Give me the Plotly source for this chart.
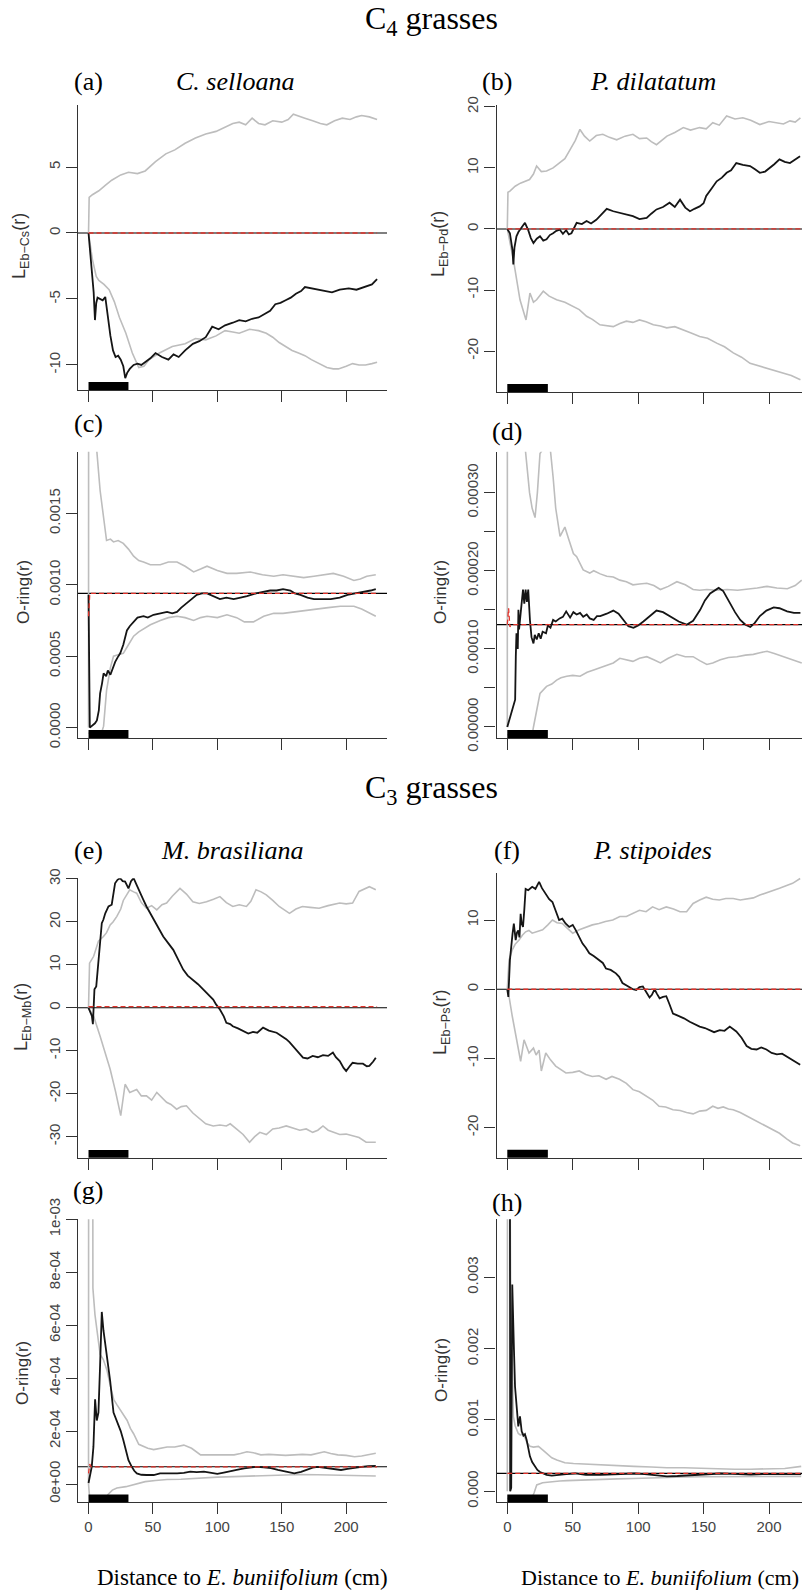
import plotly.graph_objects as go

W, H = 802, 1590

# ---------------- data (r = distance in cm) ----------------
x_ticks = [0, 50, 100, 150, 200]
bar_range = [0, 31]

# (a) C. selloana, L-function
a_hi_r = [0, 0.5, 3, 8, 13, 18, 25, 31, 38, 44, 52, 60, 67, 75, 83, 91, 99, 106, 112, 117, 122, 127, 132, 137, 143, 150, 155, 159, 164, 168, 174, 180, 185, 191, 197, 203, 208, 212, 218, 224]
a_hi = [0, 2.7, 2.9, 3.2, 3.6, 4.0, 4.4, 4.6, 4.5, 4.7, 5.4, 6.0, 6.3, 6.8, 7.2, 7.5, 7.7, 8.0, 8.3, 8.4, 8.2, 8.7, 8.3, 8.2, 8.5, 8.4, 8.6, 9.0, 8.8, 8.7, 8.5, 8.3, 8.2, 8.5, 8.7, 8.6, 8.8, 8.9, 8.8, 8.6]
a_lo_r = [0, 3, 6, 8, 12, 16, 20, 24, 29, 34, 39, 43, 47, 55, 65, 75, 83, 91, 99, 106, 112, 117, 125, 132, 138, 143, 148, 153, 158, 163, 168, 173, 179, 185, 190, 194, 200, 205, 210, 215, 220, 224]
a_lo = [0, -2.0, -3.3, -3.6, -3.9, -4.3, -5.2, -6.4, -7.6, -9.1, -10.2, -10.1, -9.6, -9.1, -8.6, -8.4, -8.0, -8.1, -7.8, -7.4, -7.5, -7.6, -7.3, -7.4, -7.6, -7.9, -8.3, -8.6, -8.9, -9.1, -9.3, -9.6, -9.9, -10.2, -10.3, -10.3, -10.1, -9.9, -10.0, -10.0, -9.9, -9.8]
a_obs_r = [0, 2, 4, 5, 6, 7, 9, 11, 13, 15, 17, 19, 21, 23, 25, 27, 28.5, 30, 32, 35, 38, 41, 44, 48, 52, 57, 62, 66, 70, 75, 81, 86, 91, 96, 101, 106, 112, 117, 122, 127, 132, 137, 141, 145, 149, 153, 157, 161, 165, 168, 173, 179, 184, 189, 195, 202, 208, 215, 220, 224]
a_obs = [0, -2.5, -4.5, -6.6, -5.3, -4.9, -5.0, -5.1, -4.85, -6.4, -7.8, -8.9, -9.4, -9.3, -9.6, -10.1, -11.0, -10.6, -10.3, -10.0, -9.9, -10.0, -9.8, -9.5, -9.1, -9.4, -9.6, -9.2, -9.4, -8.9, -8.4, -8.2, -7.9, -7.1, -7.3, -7.0, -6.8, -6.6, -6.7, -6.5, -6.4, -6.1, -5.9, -5.4, -5.3, -5.1, -4.9, -4.6, -4.4, -4.1, -4.2, -4.3, -4.4, -4.5, -4.3, -4.2, -4.3, -4.1, -3.9, -3.5]
a_theo = 0.0
a_red_r = [0, 224]
a_red = [0.0, 0.0]

# (b) P. dilatatum, L-function
b_hi_r = [0, 0.5, 2, 6, 10, 14, 17, 20, 22.4, 26, 30, 35, 40, 44, 48, 52, 55.5, 59, 63, 68, 73, 78, 83.6, 90, 96, 101, 106.5, 110, 114, 118, 122, 128, 134.5, 140, 147, 152, 157, 162, 167.6, 174, 180, 186, 193, 200, 206, 211, 216, 220, 224]
b_hi = [0, 6.0, 6.2, 7.0, 7.5, 7.9, 8.1, 9.0, 10.3, 9.4, 9.5, 10.0, 10.8, 11.5, 13.0, 14.5, 16.3, 15.2, 14.4, 15.3, 15.5, 15.0, 14.6, 15.2, 15.5, 14.8, 14.9, 14.3, 13.8, 14.5, 15.2, 15.8, 16.6, 16.2, 16.6, 16.4, 17.4, 17.0, 18.5, 18.0, 18.2, 17.8, 17.1, 17.6, 17.4, 17.2, 17.7, 17.5, 18.2]
b_lo_r = [0, 4.6, 9.7, 14.3, 17.3, 20, 22.4, 27.5, 32, 37.7, 44, 50.4, 55, 60.6, 65, 70.8, 76, 81, 86, 91, 96, 101, 106, 111.6, 117, 121.8, 128, 134.5, 140, 147, 153, 160, 166, 172.7, 179, 185.5, 192, 198, 205, 211, 217, 224]
b_lo = [0, -5.0, -11.6, -14.9, -10.5, -12.0, -11.6, -10.2, -11.0, -11.6, -12.0, -12.7, -13.2, -14.3, -14.8, -15.7, -15.9, -16.0, -15.5, -15.1, -15.3, -14.9, -15.2, -15.7, -15.9, -16.2, -16.0, -16.5, -17.0, -17.6, -17.9, -18.7, -19.3, -20.3, -21.0, -22.0, -22.4, -22.8, -23.2, -23.6, -24.0, -24.7]
b_obs_r = [0, 2, 4, 4.6, 5.5, 7, 8.5, 9.7, 11.5, 13.5, 16, 18, 20, 22.5, 25, 27.5, 30, 32.5, 35, 37.5, 40, 42.5, 45, 47, 49, 51, 53, 57, 60.6, 64, 68, 72, 76, 81, 86, 91, 96, 101, 106.5, 110, 114, 119, 124, 128, 132, 136, 139.6, 143, 147, 150, 152, 156, 160, 164, 167.6, 171, 175, 180, 185.5, 189, 193, 197, 200.8, 204, 208, 212, 216, 220, 223.7]
b_obs = [0, -0.7, -3.5, -5.8, -3.0, -1.2, -0.5, -0.1, 0.3, 1.0, -0.2, -1.5, -2.3, -1.6, -1.2, -1.9, -1.7, -1.0, -0.7, -0.3, -0.1, -0.8, -0.2, -0.9, -0.7, 0.2, 1.0, 0.8, 1.3, 0.9, 1.5, 2.4, 3.3, 2.9, 2.6, 2.4, 2.1, 1.6, 1.8, 2.5, 3.2, 3.6, 4.3, 3.6, 4.8, 3.5, 2.9, 3.3, 3.7, 4.2, 5.4, 6.6, 7.8, 8.4, 9.2, 9.6, 10.8, 10.5, 10.3, 9.8, 9.2, 9.4, 10.0, 10.6, 11.4, 11.0, 10.8, 11.4, 11.9]
b_theo = 0.0
b_red_r = [0, 224]
b_red = [0.0, 0.0]

# (c) C. selloana, O-ring
c_hi_r = [0, 0.3, 4, 6.5, 9, 11.7, 14, 17, 19.4, 23, 27, 31, 35, 39, 42.7, 48, 55.7, 62, 68.7, 75, 81.6, 87, 92, 100, 107.5, 115, 125.6, 135, 143.8, 151, 159, 167, 175, 183, 190, 198, 206, 211, 216, 223]
c_hi = [0, 0.01, 0.0025, 0.00193, 0.00166, 0.00148, 0.00131, 0.00132, 0.0013, 0.00131, 0.00129, 0.00125, 0.0012, 0.00117, 0.00116, 0.00114, 0.00114, 0.00116, 0.00116, 0.00113, 0.00109, 0.00111, 0.00113, 0.0011, 0.00108, 0.00108, 0.00109, 0.00107, 0.00106, 0.00107, 0.00106, 0.00105, 0.00106, 0.00107, 0.00108, 0.00106, 0.00103, 0.00104, 0.00106, 0.00107]
c_lo_r = [0, 10, 11.7, 14, 17, 19.4, 23, 27, 31, 35, 39, 42.7, 48, 55.7, 62, 68.7, 75, 81.6, 87, 92, 100, 107.5, 115, 121, 128, 136, 143.8, 151, 159, 168, 177, 186, 195.6, 206, 212, 216, 223]
c_lo = [-0.00004, -0.00004, 0.00001, 0.00026, 0.00042, 0.0005, 0.00051, 0.00052, 0.00058, 0.00064, 0.00067, 0.00069, 0.00072, 0.00075, 0.00077, 0.00078, 0.00077, 0.00075, 0.00077, 0.00078, 0.00077, 0.00079, 0.00077, 0.00074, 0.00074, 0.00078, 0.0008, 0.0008, 0.00081, 0.00082, 0.00083, 0.00084, 0.00085, 0.00085, 0.00083, 0.00081, 0.00078]
c_obs_r = [0, 0.6, 1, 5, 6.5, 8, 9, 10.5, 11.7, 13.7, 15, 17, 19, 20.7, 22.5, 24.6, 27, 29.8, 32, 35, 38, 42.7, 46, 50.5, 55, 61, 65, 68.7, 72, 76.4, 80, 84, 88, 92, 97, 102, 107, 112.7, 118, 123, 130, 136, 141, 146, 151, 156.7, 160, 164.5, 170, 175, 181, 188, 195, 201, 207, 213.7, 219, 223]
c_obs = [0.00093, 0.00001, 0, 0.00003, 0.00005, 0.00012, 0.00024, 0.00031, 0.00038, 0.00036, 0.00040, 0.00037, 0.00042, 0.00046, 0.00049, 0.00052, 0.00058, 0.00068, 0.00071, 0.00074, 0.00077, 0.00078, 0.00077, 0.00079, 0.0008, 0.00081, 0.0008, 0.00081, 0.00084, 0.00087, 0.0009, 0.00093, 0.00094, 0.00094, 0.00092, 0.0009, 0.00091, 0.0009, 0.00091, 0.00092, 0.00094, 0.00095, 0.00096, 0.00096, 0.00097, 0.00096, 0.00094, 0.00093, 0.00091, 0.0009, 0.0009, 0.0009, 0.00091, 0.00093, 0.00094, 0.00095, 0.00096, 0.00097]
c_theo = 0.00094
c_red_r = [0, 1, 224]
c_red = [0.00078, 0.00094, 0.00094]

# (d) P. dilatatum, O-ring
d_hi_r = [0, 0.3, 13.5, 15, 17, 19, 21.2, 23, 25, 28.8, 32.6, 35, 37, 40.3, 44, 47, 50.5, 53, 58, 63, 66, 71, 76, 81, 86, 91, 96, 101, 106.6, 112, 117, 123, 129.6, 136, 142, 147, 152.5, 160, 168, 176, 183, 191, 198.5, 206, 214, 220, 225]
d_hi = [0, 0.002, 0.00036, 0.00033, 0.0003, 0.00028, 0.000268, 0.0003, 0.00035, 0.00036, 0.00036, 0.00032, 0.00028, 0.000244, 0.000256, 0.00024, 0.000222, 0.000218, 0.000201, 0.000197, 0.0002, 0.000196, 0.000193, 0.000192, 0.000188, 0.000186, 0.000182, 0.000183, 0.000184, 0.000181, 0.000176, 0.00018, 0.000186, 0.000182, 0.000176, 0.000175, 0.000176, 0.000175, 0.000176, 0.000175, 0.000176, 0.000178, 0.00018, 0.000178, 0.000177, 0.000181, 0.000188]
d_lo_r = [0, 19, 20, 22.4, 25, 30, 34, 37.7, 41, 45.4, 50, 55.6, 61, 66, 71, 76, 81, 86, 91, 96, 101, 106.6, 112, 117, 123, 129.6, 136, 142, 147, 152.5, 157, 162.8, 169, 175.5, 182, 188, 193, 198.5, 204, 211, 218, 225]
d_lo = [-0.00001, -0.00001, 0, 0.000022, 0.000043, 0.000052, 0.000055, 0.00006, 0.000063, 0.000065, 0.000066, 0.000065, 0.00007, 0.000073, 0.000076, 0.000078, 0.000082, 0.000088, 0.000086, 0.000084, 0.000088, 0.00009, 0.000086, 0.000082, 0.000088, 0.000093, 0.00009, 0.00009, 0.000085, 0.00008, 0.000082, 0.000086, 0.000089, 0.00009, 0.000092, 0.000093, 0.000095, 0.000097, 0.000094, 0.00009, 0.000085, 0.000082]
d_obs_r = [0, 6, 6.5, 7, 8, 8.5, 9, 10, 11, 12, 13, 14, 15, 16, 17.3, 18.5, 20, 21, 22.5, 24, 25.5, 27, 29.6, 31, 33, 35, 37, 40, 42.5, 45, 48, 50.5, 53, 55.6, 58, 60.7, 63, 66, 68.5, 71, 76, 81, 85, 88.8, 92.5, 96.4, 100, 104, 109, 114, 119, 124.5, 131, 137, 142, 147.4, 151, 155, 161.5, 165, 170, 174, 178, 182, 185.7, 189, 193, 198, 203.6, 208, 213.8, 219, 224]
d_obs = [0, 0.000035, 0.00009, 0.00012, 0.0001, 0.00015, 0.000125, 0.00014, 0.000163, 0.000176, 0.000158, 0.000176, 0.00016, 0.000176, 0.000137, 0.000115, 0.000107, 0.000118, 0.000112, 0.00012, 0.000113, 0.000122, 0.00012, 0.00013, 0.000127, 0.000137, 0.000135, 0.000139, 0.000141, 0.000148, 0.00014, 0.000147, 0.000144, 0.000146, 0.000141, 0.000144, 0.000139, 0.000137, 0.000142, 0.000142, 0.000145, 0.000149, 0.000145, 0.000137, 0.000129, 0.000127, 0.00013, 0.000135, 0.000142, 0.000149, 0.000147, 0.000142, 0.000135, 0.000131, 0.000136, 0.00015, 0.000162, 0.000171, 0.000178, 0.000174, 0.000159, 0.000147, 0.000137, 0.000131, 0.000128, 0.000133, 0.000142, 0.000149, 0.000153, 0.000152, 0.000148, 0.000146, 0.000146]
d_theo = 0.000131
d_red_r = [0, 1, 2, 3, 224]
d_red = [0.000131, 0.000152, 0.000128, 0.000131, 0.000131]

# (e) M. brasiliana, L-function
e_hi_r = [0, 0.8, 4, 7.7, 11.6, 14, 16.8, 19, 22, 25, 27, 30, 32, 35, 37.4, 41, 45, 49, 53, 57, 60.6, 65, 71, 76, 81, 86, 91.6, 97, 102, 107, 112, 117, 122.6, 126, 130, 134, 138, 143, 148, 152, 156, 161, 166, 172, 179, 186, 195, 200, 205, 210, 214, 218, 221, 223]
e_hi = [0, 10.4, 12.0, 15.5, 16.6, 17.5, 19.3, 20.0, 21.3, 23.0, 25.0, 26.5, 27.5, 27.0, 26.7, 24.5, 23.2, 23.8, 22.8, 24.0, 24.4, 26.0, 27.8, 26.5, 24.7, 24.3, 24.7, 25.3, 25.9, 24.5, 23.6, 24.0, 23.6, 24.8, 27.5, 27.0, 26.3, 25.0, 23.6, 22.8, 22.0, 23.0, 23.6, 23.4, 23.2, 23.8, 24.4, 24.2, 24.4, 27.1, 27.6, 28.2, 27.8, 27.5]
e_lo_r = [0, 4, 9, 16.8, 21, 25, 28.4, 32, 37.4, 41, 45, 49, 53, 57, 60.6, 64, 68.4, 72, 76, 81, 86.5, 91, 96.8, 102, 107, 110, 114.8, 120, 125, 129, 133, 138, 143, 148, 153.5, 159, 164, 169, 174, 178, 182, 186, 190, 195, 200, 205, 210, 215.5, 223]
e_lo = [0, -2.0, -6.6, -14.3, -19.5, -25.1, -17.8, -19.7, -19.0, -20.5, -20.5, -21.5, -19.7, -21.0, -22.0, -22.5, -23.6, -23.0, -22.8, -24.5, -26.0, -27.0, -27.5, -27.3, -27.5, -27.0, -28.2, -29.5, -31.3, -30.0, -29.0, -29.5, -28.2, -28.0, -27.5, -28.0, -28.5, -28.2, -29.0, -28.5, -27.5, -28.5, -29.0, -29.5, -29.4, -29.8, -30.2, -31.3, -31.3]
e_obs_r = [0, 2.6, 3.4, 4.6, 6, 7.7, 9, 10.3, 11.5, 13, 15.5, 18, 20.6, 22.5, 24.5, 26.5, 28.4, 30, 31, 33, 35, 37.5, 40, 42.5, 45, 48, 50.3, 54, 58, 62, 65.8, 70, 73.5, 77, 81, 85, 89, 93, 96.8, 99, 102, 105, 107, 110, 112, 116, 120, 124, 127.7, 131, 135.5, 140, 146, 150, 153.5, 156, 158.7, 162, 166.5, 170, 174, 178, 182, 186, 189.7, 192, 195, 198, 200, 203, 205, 209, 213, 216, 218, 221, 223]
e_obs = [0, -1.9, -3.8, 4.3, 5.0, 11.2, 16.0, 19.7, 20.5, 22.0, 23.6, 24.0, 29.0, 29.8, 30.2, 29.5, 29.4, 28.5, 27.8, 29.5, 30.2, 28.5, 26.7, 25.2, 23.6, 22.0, 20.5, 18.5, 16.6, 15.0, 13.5, 11.0, 8.9, 7.5, 6.6, 5.5, 4.3, 3.0, 1.9, 0.8, -0.4, -2.0, -3.5, -3.8, -4.3, -4.8, -5.4, -6.0, -5.6, -5.8, -4.6, -5.3, -5.8, -6.5, -7.3, -8.0, -8.9, -10.0, -11.6, -11.8, -11.2, -11.5, -11.0, -11.2, -10.4, -11.5, -12.4, -14.0, -14.7, -13.5, -12.8, -13.0, -13.0, -13.6, -13.5, -12.5, -11.6]
e_theo = 0.0
e_red_r = [0, 224]
e_red = [0.3, 0.3]

# (f) P. stipoides, L-function
f_hi_r = [0, 1.3, 3.8, 6, 9, 11.5, 14, 16.5, 19, 23, 27, 31, 34.5, 38, 42, 46, 50, 55, 60, 65, 70, 75, 80.6, 86, 91, 96, 101, 106, 111, 116, 121.5, 127, 132, 137, 142, 147, 152, 157, 162, 167, 172.6, 178, 183, 188, 193, 198, 203, 208, 213.5, 218, 223.8]
f_hi = [0, 4.2, 5.7, 6.5, 7.1, 7.8, 8.3, 8.5, 8.1, 8.3, 8.6, 9.3, 10.0, 9.6, 9.5, 8.8, 8.1, 8.6, 9.0, 9.3, 9.5, 9.8, 10.0, 10.5, 10.5, 11.0, 11.4, 11.2, 11.9, 11.5, 11.9, 11.6, 11.2, 11.2, 12.4, 12.9, 13.3, 13.0, 12.9, 13.1, 13.1, 12.9, 13.0, 13.2, 13.6, 13.9, 14.3, 14.6, 15.0, 15.3, 16.0]
f_lo_r = [0, 1.3, 3.8, 7.7, 10.2, 12.8, 16.6, 20, 22, 24.3, 26, 29.4, 33, 37, 41, 44.8, 50, 55, 60, 65, 70, 75.5, 80, 85.7, 91, 96, 101, 106, 111, 116, 121, 126.6, 132, 137, 142, 147, 152, 157, 161, 165, 169, 172.6, 178, 183, 188, 193, 198, 203, 208, 213.5, 218, 223.8]
f_lo = [0, -1.0, -3.9, -7.8, -10.4, -7.3, -9.2, -8.5, -9.5, -8.8, -11.8, -9.2, -10.2, -11.1, -11.6, -12.1, -12.0, -11.8, -12.3, -12.6, -12.5, -13.0, -12.6, -13.0, -13.6, -14.5, -14.8, -15.4, -16.0, -16.9, -17.0, -17.4, -17.5, -17.8, -18.0, -17.6, -17.5, -16.9, -17.2, -17.0, -17.3, -17.4, -17.8, -18.3, -18.8, -19.3, -19.8, -20.2, -20.8, -21.6, -22.2, -22.6]
f_obs_r = [0, 0.8, 2, 3, 4, 5, 6.4, 7.4, 8.4, 9.3, 10.2, 11, 12, 13, 14, 16, 19, 21.5, 24.3, 26.5, 29.4, 32, 34.5, 37, 39.6, 42, 44.5, 47.3, 50, 52.4, 55, 57.5, 60, 62.7, 66, 70.3, 73, 75.4, 79, 83, 85.5, 88, 91, 93.3, 96, 98.5, 101, 103.6, 106, 108.7, 110.5, 112.5, 114.5, 116.4, 119, 121.5, 124, 126.6, 129, 131.7, 135, 139.4, 143, 147, 151, 154.7, 158, 162.4, 166, 170, 172.5, 175, 179, 182.9, 186.5, 190.5, 194, 198, 202, 206, 210, 213.5, 216, 218.7, 221, 223.8]
f_obs = [0, -1.1, 4.2, 6.6, 8.0, 9.5, 7.1, 8.2, 8.5, 7.5, 10.9, 9.5, 9.0, 11.5, 14.5, 14.3, 14.8, 14.5, 15.5, 14.6, 13.8, 13.0, 12.6, 11.4, 10.0, 10.2, 9.5, 9.0, 9.3, 8.5, 7.6, 6.6, 6.0, 5.2, 4.8, 4.2, 3.8, 3.0, 2.8, 2.3, 1.8, 0.9, 0.6, 0.3, 0.0, -0.1, 0.3, 0.4, -0.4, -1.2, -0.8, 0.0, -0.7, -1.3, -1.1, -1.0, -2.2, -3.5, -3.7, -3.9, -4.2, -4.7, -5.0, -5.4, -5.6, -5.9, -6.2, -5.9, -6.0, -5.4, -5.7, -6.1, -7.0, -8.2, -8.6, -8.7, -8.4, -8.7, -9.2, -9.4, -9.3, -9.7, -9.9, -10.2, -10.5, -10.9]
f_theo = 0.0
f_red_r = [0, 224]
f_red = [0.0, 0.0]

# (g) M. brasiliana, O-ring
g_hi_r = [0, 0.3, 3, 3.4, 5, 7, 9, 11.5, 14.3, 17, 19.5, 22, 24.7, 27, 30, 32.5, 35, 39, 42.9, 46, 50.6, 55, 61, 67, 74, 80, 87, 93, 100, 107, 113, 118, 123, 128, 133.8, 140, 146.8, 153, 159.7, 166, 172.7, 178, 183, 188, 193.5, 200, 206.5, 212, 217, 223]
g_hi = [0, 0.005, 0.003, 0.00074, 0.00064, 0.00056, 0.00049, 0.00047, 0.00043, 0.00037, 0.00032, 0.0003, 0.00028, 0.00026, 0.00024, 0.00021, 0.00019, 0.00015, 0.00014, 0.000135, 0.00013, 0.000135, 0.00014, 0.00014, 0.000147, 0.000135, 0.00011, 0.00011, 0.00011, 0.00011, 0.00011, 0.000115, 0.000122, 0.000118, 0.00011, 0.000112, 0.00011, 0.000108, 0.00011, 0.000112, 0.00011, 0.000115, 0.000122, 0.000115, 0.00011, 0.000108, 0.000103, 0.000106, 0.00011, 0.000116]
g_lo_r = [0, 1, 13, 15, 18.5, 22, 29, 37, 44, 52, 61, 71.7, 80, 87, 100, 113, 125, 139, 152, 165, 178, 191, 205, 215, 223]
g_lo = [0, -0.00006, -0.00006, -0.00004, -0.000023, -0.000015, -0.00001, 0.0, 0.000009, 0.000013, 0.000017, 0.000018, 0.000021, 0.000024, 0.000026, 0.000028, 0.00003, 0.000032, 0.000034, 0.000036, 0.000035, 0.000034, 0.000033, 0.000032, 0.00003]
g_obs_r = [0, 1.2, 2.5, 3.8, 4.7, 5.1, 6.4, 7.7, 9, 10.3, 11.6, 12.5, 14.2, 16.8, 19.4, 21, 23.2, 25, 27, 29, 31, 33.6, 35.5, 37.5, 41, 45, 50.6, 55.5, 60, 64, 68.8, 74, 79, 84, 89.6, 95, 100, 105, 110, 115, 120.8, 126, 131, 136, 141.6, 147, 152, 156, 159.7, 165, 170, 174, 178, 183, 188, 192, 196, 201, 206.5, 212, 217, 223]
g_obs = [0.000004, 0.00003, 0.000065, 0.00014, 0.00031, 0.00032, 0.00024, 0.00027, 0.00045, 0.00065, 0.00058, 0.00055, 0.00048, 0.00039, 0.00027, 0.00025, 0.00023, 0.0002, 0.000166, 0.00013, 0.00009, 0.000065, 0.00005, 0.00004, 0.000035, 0.000034, 0.000034, 0.00004, 0.000041, 0.00004, 0.00004, 0.000042, 0.000047, 0.000045, 0.000047, 0.000042, 0.000038, 0.000043, 0.000047, 0.000053, 0.000059, 0.000063, 0.000065, 0.000063, 0.00006, 0.000053, 0.000047, 0.000042, 0.00004, 0.000046, 0.000055, 0.000062, 0.000065, 0.000062, 0.000058, 0.000055, 0.000053, 0.000057, 0.000062, 0.000065, 0.000067, 0.000068]
g_theo = 0.000065
g_red_r = [0, 1, 2, 224]
g_red = [0.00004, 0.000075, 0.000065, 0.000065]

# (h) P. stipoides, O-ring
h_hi_r = [0, 0.3, 2.5, 4.6, 6, 8.4, 10, 12.3, 15, 17.4, 20, 23.8, 27, 30.2, 34, 37.9, 44, 50.6, 60, 71, 84, 96.7, 110, 122, 135, 148, 161, 173.8, 186, 199, 212, 224.6]
h_hi = [0, 0.01, 0.003, 0.00105, 0.00092, 0.00081, 0.00079, 0.00081, 0.00068, 0.00063, 0.00062, 0.00063, 0.00058, 0.00053, 0.00047, 0.00044, 0.0004, 0.00039, 0.00038, 0.00037, 0.00036, 0.00035, 0.00034, 0.00033, 0.00033, 0.00032, 0.00032, 0.00031, 0.00031, 0.00031, 0.00032, 0.00035]
h_lo_r = [0, 18.7, 20.5, 22.5, 27, 32.7, 40, 45.5, 58, 71, 84, 96.7, 110, 122, 135, 148, 161, 173.8, 186, 199, 212, 224.6]
h_lo = [-0.0001, -0.0001, -0.00002, 0.00009, 0.00012, 0.000135, 0.000145, 0.00015, 0.00016, 0.000168, 0.000175, 0.00018, 0.00019, 0.000196, 0.0002, 0.000205, 0.000207, 0.000205, 0.00021, 0.000215, 0.000213, 0.00021]
h_obs_r = [0, 1.8, 2.2, 3, 3.8, 4.6, 5.1, 5.9, 7.2, 8.4, 9.7, 11, 12.3, 13.5, 14.8, 16, 17.3, 19, 21, 23, 25, 27.5, 30, 34, 38, 45, 52, 60, 71, 80, 90, 97, 105, 114, 122, 130, 140, 148, 156, 163, 172, 180, 186, 195, 204, 212, 218, 224.6]
h_obs = [0.01, 0.01, 0, 0.00005, 0.0029, 0.0025, 0.00198, 0.00147, 0.00119, 0.00091, 0.00105, 0.00084, 0.00078, 0.0008, 0.00072, 0.0006, 0.00049, 0.00041, 0.00035, 0.0003, 0.00027, 0.00025, 0.00023, 0.00022, 0.00023, 0.00024, 0.00025, 0.00023, 0.00023, 0.000235, 0.00024, 0.00025, 0.00024, 0.000225, 0.00021, 0.000215, 0.000225, 0.00024, 0.000245, 0.00025, 0.000245, 0.00024, 0.000235, 0.00024, 0.000245, 0.000245, 0.00024, 0.00024]
h_theo = 0.000252
h_red_r = [0, 224]
h_red = [0.000252, 0.000252]

# y tick values / labels
a_yt = [-10, -5, 0, 5]
a_ytl = ["-10", "-5", "0", "5"]
b_yt = [-20, -10, 0, 10, 20]
b_ytl = ["-20", "-10", "0", "10", "20"]
c_yt = [0, 0.0005, 0.001, 0.0015]
c_ytl = ["0.0000", "0.0005", "0.0010", "0.0015"]
d_yt = [0, 0.00005, 0.0001, 0.00015, 0.0002, 0.00025, 0.0003]
d_ytl = ["0.00000", " ", "0.00010", " ", "0.00020", " ", "0.00030"]
e_yt = [-30, -20, -10, 0, 10, 20, 30]
e_ytl = ["-30", "-20", "-10", "0", "10", "20", "30"]
f_yt = [-20, -10, 0, 10]
f_ytl = ["-20", "-10", "0", "10"]
g_yt = [0, 0.0002, 0.0004, 0.0006, 0.0008, 0.001]
g_ytl = ["0e+00", "2e-04", "4e-04", "6e-04", "8e-04", "1e-03"]
h_yt = [0, 0.001, 0.002, 0.003]
h_ytl = ["0.000", "0.001", "0.002", "0.003"]

ylab_L = {"a": "L<sub>Eb\u2212Cs</sub>(r)", "b": "L<sub>Eb\u2212Pd</sub>(r)",
          "e": "L<sub>Eb\u2212Mb</sub>(r)", "f": "L<sub>Eb\u2212Ps</sub>(r)"}

# ---------------- layout geometry (pixels) ----------------
SERIF = "Liberation Serif, Times New Roman, serif"
SANS = "Liberation Sans, Arial, Helvetica, sans-serif"
GRAY = "#bdbdbd"
AX = "#333333"

LX = (77.7, 387.0)
RX = (496.5, 802.0)
LXR = [-8.4, 231.7]
RXR = [-8.25, 225.2]

panels = [
    dict(k="a", xd=LX, xr=LXR, yd=(105, 390), yr=[-11.9, 9.7], hi=(a_hi_r, a_hi), lo=(a_lo_r, a_lo), obs=(a_obs_r, a_obs), theo=a_theo, red=(a_red_r, a_red), yt=a_yt, ytl=a_ytl, xl=False),
    dict(k="b", xd=RX, xr=RXR, yd=(105, 392), yr=[-26.7, 20.3], hi=(b_hi_r, b_hi), lo=(b_lo_r, b_lo), obs=(b_obs_r, b_obs), theo=b_theo, red=(b_red_r, b_red), yt=b_yt, ytl=b_ytl, xl=False),
    dict(k="c", xd=LX, xr=LXR, yd=(451.7, 738), yr=[-0.0000729, 0.001932], hi=(c_hi_r, c_hi), lo=(c_lo_r, c_lo), obs=(c_obs_r, c_obs), theo=c_theo, red=(c_red_r, c_red), yt=c_yt, ytl=c_ytl, xl=False),
    dict(k="d", xd=RX, xr=RXR, yd=(451.7, 738), yr=[-0.0000141, 0.0003524], hi=(d_hi_r, d_hi), lo=(d_lo_r, d_lo), obs=(d_obs_r, d_obs), theo=d_theo, red=(d_red_r, d_red), yt=d_yt, ytl=d_ytl, xl=False),
    dict(k="e", xd=LX, xr=LXR, yd=(878.3, 1157.7), yr=[-34.9, 30.16], hi=(e_hi_r, e_hi), lo=(e_lo_r, e_lo), obs=(e_obs_r, e_obs), theo=e_theo, red=(e_red_r, e_red), yt=e_yt, ytl=e_ytl, xl=False),
    dict(k="f", xd=RX, xr=RXR, yd=(873.3, 1157.7), yr=[-24.33, 16.75], hi=(f_hi_r, f_hi), lo=(f_lo_r, f_lo), obs=(f_obs_r, f_obs), theo=f_theo, red=(f_red_r, f_red), yt=f_yt, ytl=f_ytl, xl=False),
    dict(k="g", xd=LX, xr=LXR, yd=(1219.3, 1502.3), yr=[-0.0000691, 0.001], hi=(g_hi_r, g_hi), lo=(g_lo_r, g_lo), obs=(g_obs_r, g_obs), theo=g_theo, red=(g_red_r, g_red), yt=g_yt, ytl=g_ytl, xl=True),
    dict(k="h", xd=RX, xr=RXR, yd=(1219.3, 1502.3), yr=[-0.000154, 0.003813], hi=(h_hi_r, h_hi), lo=(h_lo_r, h_lo), obs=(h_obs_r, h_obs), theo=h_theo, red=(h_red_r, h_red), yt=h_yt, ytl=h_ytl, xl=True),
]

fig = go.Figure()
layout = dict(
    template="none",
    width=W, height=H, autosize=False,
    margin=dict(l=0, r=0, t=0, b=0, pad=0, autoexpand=False),
    paper_bgcolor="white", plot_bgcolor="white", showlegend=False,
)
shapes = []
annotations = []

def fx(px):
    return px / W

def fy(py):
    return 1 - py / H

for i, p in enumerate(panels, start=1):
    xa = "x" if i == 1 else f"x{i}"
    ya = "y" if i == 1 else f"y{i}"
    xkey = "xaxis" if i == 1 else f"xaxis{i}"
    ykey = "yaxis" if i == 1 else f"yaxis{i}"
    layout[xkey] = dict(
        domain=[fx(p["xd"][0]), fx(p["xd"][1])], range=p["xr"], anchor=ya, automargin=False,
        showline=True, linecolor=AX, linewidth=1.3, mirror=False,
        ticks="outside", ticklen=11, tickwidth=1.2, tickcolor=AX,
        tickvals=x_ticks, ticktext=[str(v) for v in x_ticks],
        showticklabels=p["xl"], tickfont=dict(family=SANS, size=15, color="#444"),
        showgrid=False, zeroline=False, fixedrange=True,
    )
    layout[ykey] = dict(
        domain=[fy(p["yd"][1]), fy(p["yd"][0])], range=p["yr"], anchor=xa, automargin=False,
        showline=True, linecolor=AX, linewidth=1.3,
        ticks="outside", ticklen=11, tickwidth=1.2, tickcolor=AX,
        tickvals=p["yt"], ticktext=p["ytl"], tickangle=-90,
        tickfont=dict(family=SANS, size=15, color="#444"),
        showgrid=False, zeroline=False, fixedrange=True,
    )
    shapes.append(dict(type="line", xref=f"{xa} domain", yref=ya, x0=0, x1=1,
                       y0=p["theo"], y1=p["theo"], line=dict(color="black", width=1.1), layer="below"))
    shapes.append(dict(type="rect", xref=xa, yref=f"{ya} domain", x0=bar_range[0], x1=bar_range[1],
                       y0=0, y1=0.028, fillcolor="black", line=dict(width=0), layer="above"))
    for key in ("hi", "lo"):
        r, v = p[key]
        fig.add_trace(go.Scatter(x=r, y=v, mode="lines", xaxis=xa, yaxis=ya,
                                 line=dict(color=GRAY, width=1.6), hoverinfo="skip"))
    r, v = p["obs"]
    fig.add_trace(go.Scatter(x=r, y=v, mode="lines", xaxis=xa, yaxis=ya,
                             line=dict(color="#151515", width=1.8), hoverinfo="skip"))
    r, v = p["red"]
    fig.add_trace(go.Scatter(x=r, y=v, mode="lines", xaxis=xa, yaxis=ya,
                             line=dict(color="#e2332b", width=1.3, dash="5px,3px"), hoverinfo="skip"))

def ann(text, px, py, size, family, angle=0, color="black"):
    annotations.append(dict(text=text, x=fx(px), y=fy(py), xref="paper", yref="paper",
                            xanchor="center", yanchor="middle", showarrow=False, textangle=angle,
                            font=dict(family=family, size=size, color=color)))

# group titles
ann("C<sub>4</sub> grasses", 431, 21, 32, SERIF)
ann("C<sub>3</sub> grasses", 431, 789, 32, SERIF)

# panel labels and species
ann("(a)", 88, 82, 26, SERIF)
ann("<i>C. selloana</i>", 235, 82, 26, SERIF)
ann("(b)", 497, 82, 26, SERIF)
ann("<i>P. dilatatum</i>", 653, 82, 26, SERIF)
ann("(c)", 88, 423, 26, SERIF)
ann("(d)", 507, 432, 26, SERIF)
ann("(e)", 88, 850, 26, SERIF)
ann("<i>M. brasiliana</i>", 232, 850, 26, SERIF)
ann("(f)", 507, 850, 26, SERIF)
ann("<i>P. stipoides</i>", 652, 850, 26, SERIF)
ann("(g)", 88, 1190, 26, SERIF)
ann("(h)", 507, 1202, 26, SERIF)

# y-axis titles
ann(ylab_L["a"], 21, 246, 18, SANS, -90, "#333")
ann(ylab_L["b"], 440, 244, 18, SANS, -90, "#333")
ann("O-ring(r)", 24, 592, 17, SANS, -90, "#333")
ann("O-ring(r)", 441, 592, 17, SANS, -90, "#333")
ann(ylab_L["e"], 22, 1017, 18, SANS, -90, "#333")
ann(ylab_L["f"], 441, 1023, 18, SANS, -90, "#333")
ann("O-ring(r)", 22, 1373, 17, SANS, -90, "#333")
ann("O-ring(r)", 441, 1370, 17, SANS, -90, "#333")

# x-axis titles
ann("Distance to <i>E. buniifolium</i> (cm)", 242, 1577, 23, SERIF)
ann("Distance to <i>E. buniifolium</i> (cm)", 660, 1577, 22, SERIF)

layout["shapes"] = shapes
layout["annotations"] = annotations
fig.update_layout(**layout)
fig.write_html(
    "out.html",
    config={"displayModeBar": False},
    post_script=(
        "document.documentElement.style.margin='0px';"
        "document.body.style.margin='0px';document.body.style.padding='0px';"
        "var gd=document.getElementById('{plot_id}');"
        "gd.style.position='fixed';gd.style.left='0px';gd.style.top='0px';"
    ),
)
